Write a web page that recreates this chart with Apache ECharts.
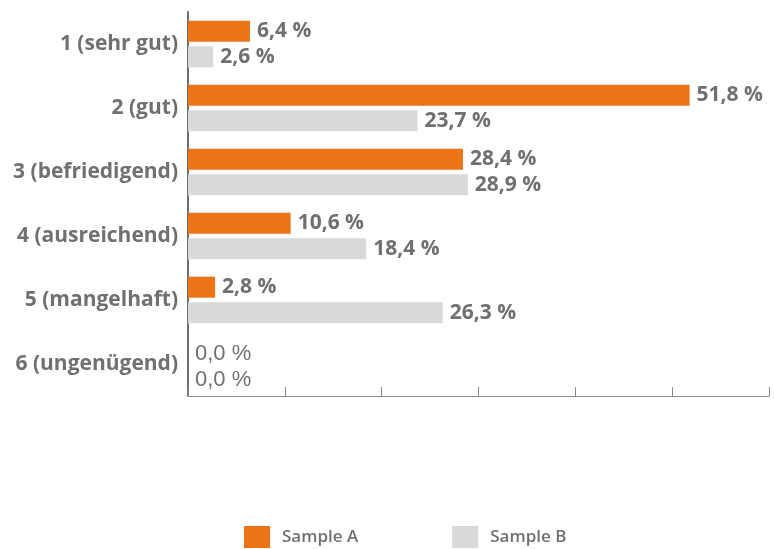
<!DOCTYPE html>
<html>
<head>
<meta charset="utf-8">
<script src="https://cdn.jsdelivr.net/npm/echarts@6/dist/echarts.min.js"></script>
<style>
  html, body { margin: 0; padding: 0; background: #fff; }
  #chart { width: 774px; height: 549px; }
</style>
</head>
<body>
<div id="chart"></div>
<script>
// Grade categories (top to bottom)
const categories = ['1 (sehr gut)', '2 (gut)', '3 (befriedigend)', '4 (ausreichend)', '5 (mangelhaft)', '6 (ungenügend)'];
// Share of responses in percent
const sampleA = [6.4, 51.8, 28.4, 10.6, 2.8, 0.0];
const sampleB = [2.6, 23.7, 28.9, 18.4, 26.3, 0.0];
const seriesNames = ['Sample A', 'Sample B'];

const textColor = '#707070';
const fontFamily = '"Open Sans", Lato, sans-serif';

function fmt(v) {
  return v.toFixed(1).replace('.', ',') + ' %';
}

// Zero values are printed in a plain regular face
function toData(arr) {
  return arr.map(v => v === 0
    ? { value: v, label: { fontWeight: 'normal', fontSize: 22, fontFamily: '"Liberation Sans", Arial, sans-serif', offset: [0, 3] } }
    : v);
}

const chart = echarts.init(document.getElementById('chart'));
const labelCfg = {
  show: true,
  position: 'right',
  distance: 7,
  color: textColor,
  fontSize: 21,
  fontWeight: 'bold',
  fontFamily: fontFamily,
  formatter: p => fmt(p.value)
};

chart.setOption({
  animation: false,
  textStyle: { fontFamily: fontFamily },
  grid: { left: 188, right: 5, top: 12, bottom: 153, containLabel: false },
  legend: {
    bottom: 1,
    left: 244,
    padding: 0,
    itemWidth: 26,
    itemHeight: 22,
    itemGap: 94,
    icon: 'rect',
    textStyle: { color: textColor, fontSize: 17, fontWeight: 600, fontFamily: fontFamily, padding: [0, 0, 0, 7] },
    data: seriesNames
  },
  xAxis: {
    type: 'value',
    min: 0,
    max: 60,
    interval: 10,
    axisLine: { show: true, lineStyle: { color: '#8a8a8a', width: 1 } },
    axisTick: { show: true, inside: true, length: 9, lineStyle: { color: '#8a8a8a' } },
    axisLabel: { show: false },
    splitLine: { show: false }
  },
  yAxis: {
    type: 'category',
    inverse: true,
    data: categories,
    axisLine: { show: true, lineStyle: { color: '#707070', width: 2 } },
    axisTick: { show: false },
    axisLabel: { color: textColor, fontSize: 21, fontWeight: 'bold', fontFamily: fontFamily, margin: 10 }
  },
  series: [
    {
      name: seriesNames[0],
      type: 'bar',
      data: toData(sampleA),
      barWidth: 21,
      barGap: '22%',
      itemStyle: { color: '#ec7416' },
      label: labelCfg
    },
    {
      name: seriesNames[1],
      type: 'bar',
      data: toData(sampleB),
      barWidth: 21,
      itemStyle: { color: '#d9d9d9' },
      label: labelCfg
    }
  ]
});
</script>
</body>
</html>
